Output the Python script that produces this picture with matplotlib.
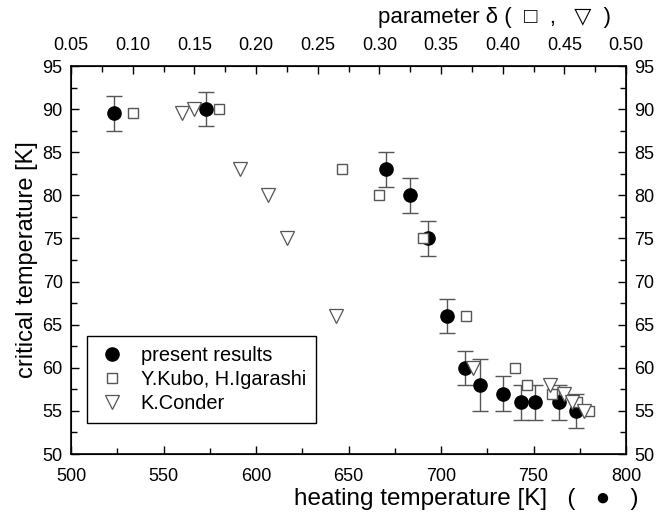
import matplotlib
matplotlib.use("Agg")
import matplotlib.pyplot as plt
from matplotlib.lines import Line2D
from matplotlib.ticker import MultipleLocator

plt.rcParams['font.family'] = ['Liberation Sans', 'DejaVu Sans']

# - present results (bottom axis: heating temperature)
heat_T = [523, 573, 670, 683, 693, 703, 713, 721, 733.5, 743, 751, 764, 773]
heat_Tc = [89.5, 90, 83, 80, 75, 66, 60, 58, 57, 56, 56, 56, 55]
heat_err = [2, 2, 2, 2, 2, 2, 2, 3, 2, 2, 2, 2, 2]

# - Y.Kubo, H.Igarashi (top axis: delta)
kubo_d = [0.10, 0.17, 0.27, 0.30, 0.335, 0.37, 0.41, 0.42, 0.44, 0.46, 0.47]
kubo_Tc = [89.5, 90, 83, 80, 75, 66, 60, 58, 57, 56, 55]

# - K.Conder (top axis: delta)
conder_d = [0.14, 0.15, 0.187, 0.21, 0.225, 0.265, 0.376, 0.438, 0.45, 0.456, 0.466]
conder_Tc = [89.5, 90, 83, 80, 75, 66, 60, 58, 57, 56, 55]

top_ticks = [0.05, 0.10, 0.15, 0.20, 0.25, 0.30, 0.35, 0.40, 0.45, 0.50]

fig = plt.figure(figsize=(6.6, 5.13), dpi=100)
ax = fig.add_axes([0.1076, 0.115, 0.841, 0.7563])
ax2 = ax.twiny()

ax.errorbar(heat_T, heat_Tc, yerr=heat_err, fmt='o', color='black', ms=9.5,
            ecolor='#555555', elinewidth=1, capsize=5.5, capthick=1, zorder=3)
ax2.plot(kubo_d, kubo_Tc, 's', mfc='white', mec='#555555', ms=7, mew=1)
ax2.plot(conder_d, conder_Tc, 'v', mfc='white', mec='#555555', ms=9.5, mew=0.9)

ax.set_xlim(500, 800)
ax.set_ylim(50, 95)
ax2.set_xlim(0.05, 0.50)

ax.xaxis.set_major_locator(MultipleLocator(50))
ax.xaxis.set_minor_locator(MultipleLocator(25))
ax.yaxis.set_major_locator(MultipleLocator(5))
ax.yaxis.set_minor_locator(MultipleLocator(2.5))
ax2.set_xticks(top_ticks)
ax2.set_xticklabels([f'{t:.2f}' for t in top_ticks])
ax2.xaxis.set_minor_locator(MultipleLocator(0.025))

for a in (ax, ax2):
    a.tick_params(which='major', direction='in', length=6, width=1, labelsize=13)
    a.tick_params(which='minor', direction='in', length=4, width=1)
ax.tick_params(which='both', right=True, labelright=True)
ax.tick_params(axis='x', pad=10)
ax.tick_params(axis='y', which='major', pad=6)
ax2.tick_params(axis='x', pad=9)
for s in ax.spines.values():
    s.set_linewidth(1.2)

ax.set_ylabel('critical temperature [K]', fontsize=17, labelpad=3)

fig.text(0.967, 0.0156, 'heating temperature [K]   (   \u25cf   )', fontsize=17.5,
         ha='right', va='baseline')
fig.text(0.573, 0.955, 'parameter \u03b4 (  \u25a1  ,   \u25bd  )', fontsize=16,
         ha='left', va='baseline')

handles = [
    Line2D([], [], ls='none', marker='o', color='black', ms=9.5),
    Line2D([], [], ls='none', marker='s', mfc='white', mec='#555555', ms=7, mew=1),
    Line2D([], [], ls='none', marker='v', mfc='white', mec='#555555', ms=9.5, mew=0.9),
]
labels = ['present results', 'Y.Kubo, H.Igarashi', 'K.Conder']
leg = ax.legend(handles, labels, loc='lower left', bbox_to_anchor=(0.028, 0.08),
                borderaxespad=0, fontsize=14.4, fancybox=False, edgecolor='black',
                framealpha=1, handletextpad=0.7, borderpad=0.5, labelspacing=0.25,
                handlelength=1.5)
leg.get_frame().set_linewidth(1)

fig.savefig('out.png', dpi=100)
